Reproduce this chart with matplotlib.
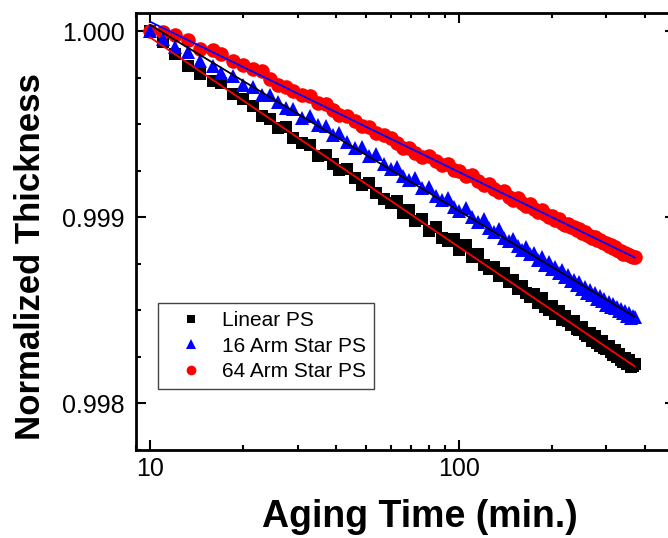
import numpy as np
import matplotlib.pyplot as plt
from matplotlib.lines import Line2D

plt.rcParams['font.family'] = ['Liberation Sans', 'DejaVu Sans']

## aging times (min.)
time = [10, 11, 12, 13.3, 14.5, 16, 17, 18.5, 20, 21.5, 23, 24.5, 26, 27.5, 29,
        31, 33, 35, 37, 39, 41, 43.5, 46, 48.5, 51, 54, 57, 60, 63, 66, 69, 72,
        76, 80, 84, 88, 92, 96, 100, 105, 110, 115, 120, 125, 130, 135, 140,
        145, 150, 155, 160, 165, 170, 175, 180, 185, 190, 195, 200, 205, 210,
        215, 220, 225, 230, 235, 240, 245, 250, 255, 260, 265, 270, 275, 280,
        285, 290, 295, 300, 305, 310, 315, 320, 325, 330, 335, 340, 345, 350,
        355, 360, 365, 370]

## thickness drop, in ppm (1 - h/h0) * 1e6
linear_ps = [0, 60, 120, 186, 230, 265, 280, 335, 365, 400, 455, 470, 520, 515,
             575, 600, 610, 670, 665, 715, 745, 740, 790, 825, 815, 870, 900,
             925, 915, 975, 960, 1020, 1010, 1075, 1050, 1110, 1130, 1115, 1175,
             1150, 1215, 1195, 1255, 1280, 1265, 1315, 1300, 1350, 1335, 1385,
             1370, 1410, 1430, 1415, 1460, 1435, 1480, 1500, 1475, 1520, 1505,
             1550, 1530, 1560, 1580, 1560, 1600, 1605, 1590, 1630, 1640, 1620,
             1665, 1640, 1675, 1690, 1665, 1705, 1710, 1690, 1725, 1740, 1715,
             1750, 1735, 1765, 1780, 1755, 1790, 1770, 1805, 1800, 1790]

star16_ps = [0, 40, 85, 110, 160, 185, 225, 240, 290, 300, 345, 340, 380, 415,
             420, 465, 455, 505, 510, 555, 545, 595, 625, 620, 670, 660, 715,
             740, 730, 780, 800, 790, 845, 835, 885, 905, 895, 945, 965, 950,
             1000, 1025, 1010, 1060, 1080, 1065, 1110, 1130, 1115, 1155, 1175,
             1160, 1200, 1190, 1230, 1215, 1255, 1240, 1280, 1265, 1300, 1285,
             1320, 1310, 1345, 1335, 1365, 1350, 1385, 1375, 1405, 1390, 1420,
             1410, 1440, 1425, 1450, 1440, 1470, 1455, 1480, 1465, 1490, 1480,
             1505, 1495, 1515, 1505, 1530, 1515, 1540, 1530, 1535]

star64_ps = [0, 5, 20, 45, 95, 100, 120, 160, 180, 205, 215, 255, 290, 300, 320,
             345, 350, 385, 390, 425, 450, 455, 485, 510, 515, 545, 555, 575,
             600, 625, 630, 655, 675, 670, 700, 720, 715, 745, 750, 780, 775,
             805, 825, 820, 850, 865, 860, 890, 905, 895, 925, 940, 930, 955,
             970, 960, 985, 1000, 995, 1015, 1010, 1030, 1040, 1035, 1055, 1050,
             1070, 1065, 1085, 1080, 1095, 1100, 1110, 1105, 1125, 1120, 1135,
             1140, 1140, 1155, 1150, 1165, 1160, 1175, 1180, 1180, 1195, 1190,
             1200, 1205, 1210, 1215, 1215]

labels = ["Linear PS", "16 Arm Star PS", "64 Arm Star PS"]

t = np.array(time)
series = [
    (np.array(linear_ps), 's', 8.8, 'black', 'red'),
    (np.array(star64_ps), 'o', 10.5, 'red', 'blue'),
    (np.array(star16_ps), '^', 10.5, 'blue', 'black'),
]

fig = plt.figure(figsize=(6.68, 5.38), dpi=100)
ax = fig.add_axes([136/668, 88.3/538, 539/668, 437/538])

for drop, mk, ms, col, fitcol in series:
    y = 1 - drop*1e-6
    ax.plot(t, y, linestyle='none', marker=mk, ms=ms, color=col,
            markeredgewidth=0, zorder=2)

## fit lines, linear in log(t)
for drop, mk, ms, col, fitcol in series:
    y = 1 - drop*1e-6
    p = np.polyfit(np.log10(t), y, 1)
    tt = np.array([t.min(), t.max()])
    ax.plot(tt, np.polyval(p, np.log10(tt)), color=fitcol, lw=1.3, zorder=3)

ax.set_xscale('log')
ax.set_xlim(9, 500)
ax.set_ylim(0.9978, 1.0001)
ax.set_yticks([0.998, 0.999, 1.000])
ax.set_yticks(np.arange(0.99775, 1.0001, 0.00025), minor=True)
ax.set_yticklabels(["0.998", "0.999", "1.000"])
ax.set_xticks([10, 100])
ax.set_xticklabels(["10", "100"])

ax.tick_params(which='both', direction='in', top=True, right=True, width=1.5)
ax.tick_params(which='major', length=7, labelsize=18)
ax.tick_params(axis='y', which='major', pad=8)
ax.tick_params(axis='x', which='major', pad=5)
ax.tick_params(which='minor', length=3.5)
for s in ax.spines.values():
    s.set_linewidth(2)

ax.set_xlabel("Aging Time (min.)", fontsize=27, fontweight='bold')
ax.set_ylabel("Normalized Thickness", fontsize=25, fontweight='bold')
ax.xaxis.set_label_coords(0.527, -0.113)
ax.yaxis.set_label_coords(-0.165, 0.443)

handles = [Line2D([], [], ls='none', marker='s', ms=5.5, color='black', mew=0),
           Line2D([], [], ls='none', marker='^', ms=7, color='blue', mew=0),
           Line2D([], [], ls='none', marker='o', ms=7, color='red', mew=0)]
leg = ax.legend(handles, labels, loc='upper left', bbox_to_anchor=(0.0408, 0.3357),
                borderaxespad=0, fontsize=15, fancybox=False, framealpha=1,
                edgecolor='#444444', borderpad=0.4, handlelength=2.4,
                handletextpad=0.25, labelspacing=0.3)
leg.get_frame().set_linewidth(1)

plt.savefig("out.png", dpi=100)
